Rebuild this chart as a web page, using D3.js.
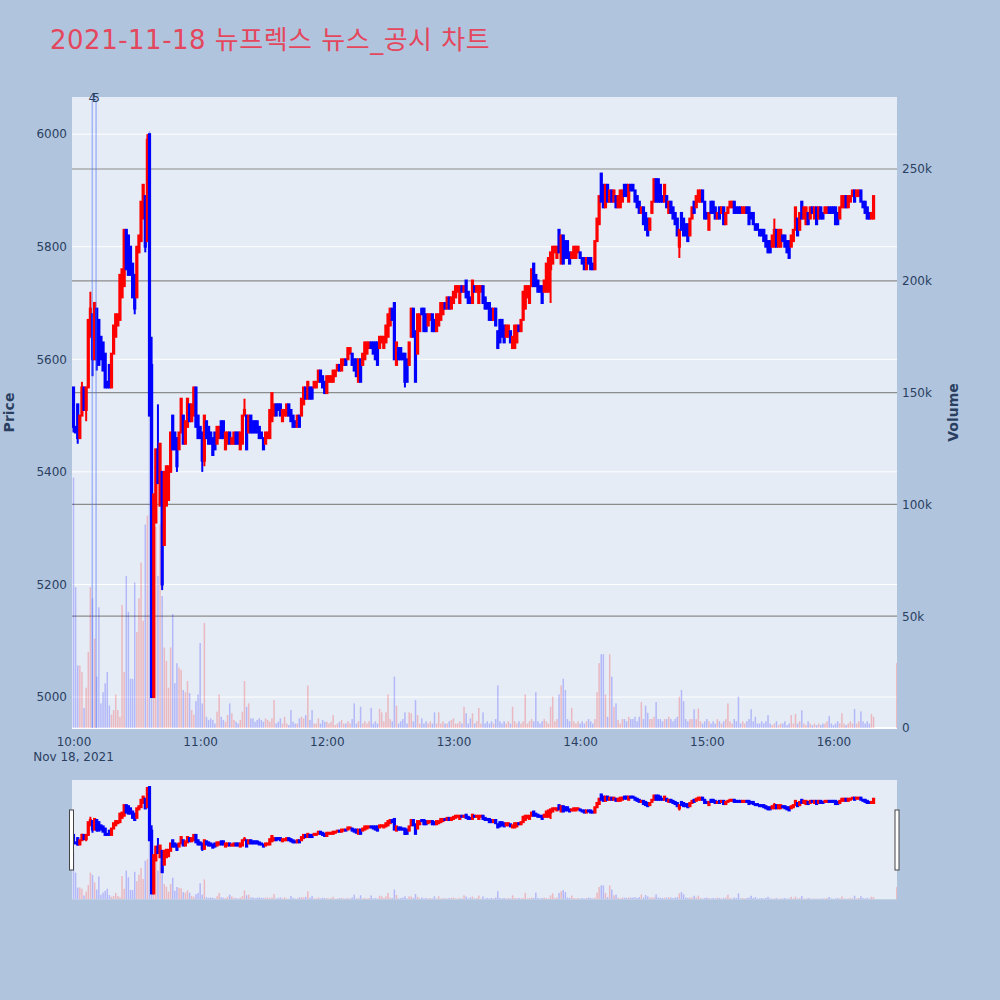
<!DOCTYPE html>
<html><head><meta charset="utf-8">
<script src="https://cdn.jsdelivr.net/npm/d3@7"></script>
<style>body{margin:0;background:#b0c4de;} svg{display:block}</style>
</head><body>
<svg id="chart" width="1000" height="1000"></svg>
<script>
const titleText = "2021-11-18 뉴프렉스 뉴스_공시 차트";
// one candle per minute, index 0 = 10:00
const opens = [
5550,5480,5520,5460,5500,5550,5510,5550,5640,5680,5600,
5690,5670,5640,5630,5610,5560,5590,5550,5610,5640,
5660,5670,5710,5730,5830,5820,5800,5770,5750,5710,
5790,5810,5850,5890,5810,6000,5590,5000,5310,5440,
5340,5400,5270,5340,5350,5400,5500,5470,5460,5440,
5470,5500,5450,5480,5520,5490,5500,5550,5500,
5480,5470,5420,5490,5480,5470,5460,5470,5450,5460,
5490,5490,5440,5450,5470,5450,5450,5470,5470,5440,
5450,5500,5500,5470,5500,5490,5490,5490,5480,5470,
5460,5450,5460,5460,5490,5500,5520,5520,5520,5490,
5500,5500,5520,5510,5500,5490,5480,5500,5500,5520,
5550,5530,5550,5550,5550,5550,5560,5580,5570,5560,
5540,5560,5560,5560,5570,5580,5590,5580,5590,5600,
5600,5610,5610,5600,5600,5560,5600,5590,5600,5610,
5620,5630,5630,5630,5630,5620,5630,5620,5630,5640,
5660,5690,5700,5590,5620,5620,5610,5610,5600,5590,
5640,5690,5650,5610,5650,5690,5690,5680,5660,5670,
5680,5670,5650,5660,5670,5680,5700,5690,5710,5690,
5700,5710,5720,5700,5730,5720,5740,5720,5710,5700,
5730,5720,5700,5720,5730,5710,5700,5700,5690,5670,
5690,5650,5670,5670,5660,5640,5640,5650,5620,5620,
5630,5660,5650,5670,5690,5710,5700,5730,5770,5750,
5740,5730,5730,5720,5720,5720,5760,5770,5790,5780,
5830,5770,5820,5810,5810,5790,5780,5780,5780,5790,
5790,5780,5780,5760,5780,5780,5770,5760,5810,5840,
5930,5910,5870,5910,5880,5900,5880,5890,5870,5870,
5880,5910,5910,5880,5910,5910,5900,5890,5880,5860,
5870,5860,5850,5830,5860,5880,5920,5920,5910,5890,
5880,5890,5860,5880,5870,5860,5850,5800,5860,5850,
5840,5840,5820,5850,5880,5870,5880,5880,5900,5880,
5860,5830,5880,5880,5870,5850,5870,5860,5870,5840,
5860,5870,5870,5880,5870,5870,5870,5860,5860,5870,
5870,5860,5860,5840,5840,5830,5830,5830,5820,5810,
5810,5800,5800,5830,5800,5800,5820,5820,5810,5810,
5800,5810,5830,5850,5830,5880,5850,5840,5860,5850,
5870,5850,5870,5850,5870,5860,5860,5860,5870,5870,
5870,5870,5860,5850,5870,5870,5890,5870,5880,5890,
5900,5890,5890,5900,5880,5880,5870,5860,5850,5850];
const closes = [
5480,5470,5460,5500,5550,5510,5550,5670,5690,5600,5700,
5600,5590,5600,5580,5550,5550,5550,5610,5660,5680,
5680,5750,5760,5830,5760,5750,5750,5710,5690,5800,
5820,5880,5910,5800,5990,5500,5000,5360,5440,5380,
5450,5200,5400,5410,5410,5470,5440,5440,5410,5470,
5530,5450,5490,5530,5490,5520,5550,5480,5460,
5460,5420,5500,5460,5450,5450,5430,5440,5480,5480,
5460,5460,5470,5470,5450,5460,5470,5450,5450,5470,
5500,5510,5440,5500,5470,5470,5470,5470,5460,5460,
5440,5470,5470,5510,5540,5520,5500,5510,5500,5510,
5510,5520,5500,5490,5480,5480,5500,5480,5530,5550,
5530,5560,5530,5530,5560,5560,5580,5560,5550,5540,
5570,5570,5570,5580,5580,5590,5580,5600,5600,5590,
5620,5620,5590,5580,5570,5600,5560,5610,5630,5630,
5630,5620,5610,5600,5590,5640,5640,5640,5660,5680,
5690,5670,5600,5630,5600,5600,5600,5560,5560,5630,
5690,5640,5560,5680,5680,5680,5650,5650,5680,5680,
5650,5650,5680,5680,5700,5700,5690,5710,5690,5710,
5720,5730,5730,5730,5720,5730,5710,5700,5700,5740,
5720,5730,5730,5730,5700,5690,5690,5670,5670,5690,
5660,5620,5630,5640,5630,5660,5660,5630,5640,5660,
5660,5650,5670,5720,5730,5730,5730,5760,5730,5730,
5720,5720,5700,5740,5770,5780,5790,5800,5800,5800,
5790,5820,5770,5780,5780,5770,5790,5800,5800,5800,
5780,5770,5760,5780,5770,5760,5760,5810,5850,5890,
5880,5870,5910,5880,5900,5880,5900,5870,5890,5900,
5900,5890,5890,5910,5900,5900,5880,5870,5860,5870,
5840,5830,5820,5850,5880,5920,5880,5880,5880,5880,
5910,5870,5880,5860,5850,5840,5820,5830,5830,5820,
5820,5810,5850,5870,5860,5890,5900,5900,5880,5850,
5850,5860,5860,5860,5850,5860,5850,5870,5840,5860,
5870,5880,5880,5860,5860,5860,5860,5870,5870,5860,
5840,5850,5840,5830,5830,5820,5820,5810,5800,5790,
5790,5820,5830,5800,5830,5830,5810,5800,5790,5780,
5820,5830,5870,5820,5860,5850,5870,5870,5840,5870,
5860,5870,5840,5870,5850,5850,5870,5870,5860,5860,
5860,5840,5840,5870,5890,5890,5870,5890,5890,5900,
5880,5900,5900,5880,5870,5860,5850,5850,5860,5890];
// wick extremes beyond the body: [minute index, price]
const wickHighs = [[4,5560],[8,5720],[35,6000],[37,5640],[40,5520],[81,5530],[332,5850]];
const wickLows = [[0,5470],[2,5450],[6,5490],[9,5570],[11,5580],[29,5680],[34,5790],[42,5190],[49,5400],[61,5400],[62,5410],[157,5550],[226,5700],[287,5780]];
// volume per minute, thousands of shares
const volumesK = [
112,63,28,28,25,9,18,34,63,58,
40,23,54,11,16,20,25,10,6,8,
15,8,5,55,25,68,52,22,22,65,
43,58,74,48,91,95,267,100,75,90,
68,91,59,36,30,18,36,51,20,29,
27,26,17,16,21,15.6,8,6,12,15,
38,11,47,5,3.6,4.3,3.6,2,7.3,15,
5,3.6,2.8,5.8,11,6.6,3.6,2.8,2,3.6,
7.3,21,9.5,11,4.3,4.3,2.8,3.6,4.3,3.6,
2.8,4.3,3.6,2.8,4.3,12.5,2,2.8,4.3,2,
5,2,1.3,8,2.8,2,2,4.3,5,4.3,
5.8,19,3.6,8,2,2,4.3,2,3.6,2.8,
2.8,2,2.8,5.8,1.3,2,2.8,3.6,2,2,
3,2,4,11,2,3,9.5,2,3,2,
3,9,2,3,2,8.6,7,3,7,15,
4,3,23,10,2,3,4,7,2,7,
6.6,3,12.5,5.8,2,4.3,2,3,2,3,
2,7,2,7,2,3,2,2,3,3.6,
4.3,2,2,3,2,9.5,6.6,2,4.3,6.6,
2,3,9,2,7,2,3,2,3,2,
4,19,3,2,3,2,3,2,9.5,3,
2,3,2,3,15,2,3,4,3,16,
3,2,3,4,3,2,9.5,14,3,4,
15,19,22,17,4,3,9,3,2,3,
2,3,2,3,4,3,2,4,16,29,
33,33,15,5,33,23,9.5,11,3.6,2,
4,4,3,5,4,4,5,3,5,11.6,
4,10,6.8,4,4,5,11.6,4,4,3,
4,4,5,4,3,4,5,14,17,12,
4,3,4,4,8.4,4,8.7,3,2,3,
4,3,2,3,2,4,3,2,3,4,
11,3,2,4,3,14,2,3,2,3,
4,8.4,3,5,2,2,3,2,3,5.8,
2,1.3,2,3,1.3,2,2,3,1.3,2,
5.8,2,6.3,2,3,7.9,2,1.3,3,2,
1.3,2,1.3,2,1.3,2,2,3,5.3,2,
1.3,2,3,2,6.6,2,1.3,2,3,2,
8.5,2,3,7.4,3,2,3,2,6.3,5];
// closing auction at 16:30
const auctionMinute = [390];
const auctionPrice = [5900];
const auctionVolumeK = [29];
// news / disclosure markers (minutes after 10:00)
const newsMinutes = [8.9, 10.7];
const newsLabels = ["4", "5"];
const priceTicks = [5000, 5200, 5400, 5600, 5800, 6000];
const volumeTicks = [0, 50000, 100000, 150000, 200000, 250000];
const timeTickMinutes = [0, 60, 120, 180, 240, 300, 360];

const FONT = "'DejaVu Sans', Verdana, 'Noto Sans CJK KR', sans-serif";
const TXT = "#2a3f5f";
const base = new Date(2021, 10, 18, 10, 0, 0);
const tm = m => new Date(base.getTime() + m * 60000);

const candles = opens.map((o, i) => ({
  t: tm(i), o, c: closes[i],
  h: Math.max(o, closes[i]), l: Math.min(o, closes[i]), v: volumesK[i] * 1000
}));
wickHighs.forEach(([i, p]) => { candles[i].h = Math.max(candles[i].h, p); });
wickLows.forEach(([i, p]) => { candles[i].l = Math.min(candles[i].l, p); });
auctionMinute.forEach((m, k) => candles.push({t: tm(m), o: auctionPrice[k], c: auctionPrice[k], h: auctionPrice[k], l: auctionPrice[k], v: auctionVolumeK[k] * 1000}));

const L = 72, R = 897, T = 97, B = 728;
const sT = 780, sB = 899.3;
const x = d3.scaleTime().domain([tm(-0.71), tm(390.1)]).range([L, R]);
const yP = d3.scaleLinear().domain([4945, 6066]).range([B, T]);
const yV = d3.scaleLinear().domain([0, 282200]).range([B, T]);
const yPs = d3.scaleLinear().domain([4945, 6066]).range([sB, sT]);
const yVs = d3.scaleLinear().domain([0, 282200]).range([sB, sT]);

const svg = d3.select("#chart");
svg.append("rect").attr("width", 1000).attr("height", 1000).attr("fill", "#b0c4de");

const defs = svg.append("defs");
defs.append("clipPath").attr("id", "cp").append("rect").attr("x", L).attr("y", T).attr("width", R - L).attr("height", B - T);
defs.append("clipPath").attr("id", "cps").append("rect").attr("x", L).attr("y", sT).attr("width", R - L).attr("height", sB - sT);

svg.append("rect").attr("x", L).attr("y", T).attr("width", R - L).attr("height", B - T).attr("fill", "#e5ecf6");

// price grid (white)
svg.append("g").selectAll("line").data(priceTicks).join("line")
  .attr("x1", L).attr("x2", R).attr("y1", d => yP(d)).attr("y2", d => yP(d))
  .attr("stroke", "#fff").attr("stroke-width", 1);
// volume grid (grey)
svg.append("g").selectAll("line").data(volumeTicks.filter(d => d > 0)).join("line")
  .attr("x1", L).attr("x2", R).attr("y1", d => yV(d)).attr("y2", d => yV(d))
  .attr("stroke", "#8c8c8c").attr("stroke-width", 1.2);
svg.append("line").attr("x1", L).attr("x2", R).attr("y1", yV(0)).attr("y2", yV(0)).attr("stroke", "#fff").attr("stroke-width", 2);

const col = d => d.c >= d.o ? "#ff0000" : "#0000ff";
const vcol = d => d.c >= d.o ? "rgba(255,0,0,0.22)" : "rgba(0,0,255,0.22)";

function drawCandles(g, ys, yv) {
  g.append("g").selectAll("line").data(candles).join("line")
    .attr("x1", d => x(d.t)).attr("x2", d => x(d.t))
    .attr("y1", d => ys(d.h)).attr("y2", d => ys(d.l))
    .attr("stroke", col).attr("stroke-width", 2);
  g.append("g").selectAll("rect").data(candles).join("rect")
    .attr("x", d => x(d.t) - 0.6).attr("width", 1.2)
    .attr("y", d => ys(Math.max(d.o, d.c))).attr("height", d => Math.abs(ys(d.o) - ys(d.c)))
    .attr("fill", col).attr("stroke", col).attr("stroke-width", 2);
  g.append("g").selectAll("rect").data(candles).join("rect")
    .attr("x", d => x(d.t) - 0.75).attr("width", 1.5)
    .attr("y", d => yv(d.v)).attr("height", d => yv(0) - yv(d.v))
    .attr("fill", vcol);
}
drawCandles(svg.append("g").attr("clip-path", "url(#cp)"), yP, yV);

// news markers
const news = svg.append("g");
news.selectAll("line").data(newsMinutes).join("line")
  .attr("x1", d => x(tm(d))).attr("x2", d => x(tm(d))).attr("y1", T).attr("y2", B)
  .attr("stroke", "rgba(80,115,250,0.45)").attr("stroke-width", 1.5);
news.selectAll("text").data(newsMinutes).join("text")
  .attr("x", d => x(tm(d))).attr("y", T + 4.5).attr("text-anchor", "middle")
  .attr("fill", TXT).style("font", `12px ${FONT}`).text((d, i) => newsLabels[i]);

// axes
const gy = svg.append("g").attr("transform", `translate(${L},0)`)
  .call(d3.axisLeft(yP).tickValues(priceTicks).tickSize(0).tickPadding(5).tickFormat(d3.format("d")));
const gy2 = svg.append("g").attr("transform", `translate(${R},0)`)
  .call(d3.axisRight(yV).tickValues(volumeTicks).tickSize(0).tickPadding(5).tickFormat(d => d === 0 ? "0" : (d / 1000) + "k"));
const gx = svg.append("g").attr("transform", `translate(0,${B})`)
  .call(d3.axisBottom(x).tickValues(timeTickMinutes.map(tm)).tickSize(0).tickPadding(9).tickFormat(d3.timeFormat("%H:%M")));
[gy, gy2, gx].forEach(g => {
  g.select(".domain").remove();
  g.selectAll("text").attr("fill", TXT).style("font", `12px ${FONT}`);
});
svg.append("text").attr("x", x(tm(0))).attr("y", 761).attr("text-anchor", "middle")
  .attr("fill", TXT).style("font", `12px ${FONT}`).text("Nov 18, 2021");

svg.append("text").attr("transform", `translate(14,${(T + B) / 2}) rotate(-90)`).attr("text-anchor", "middle")
  .attr("fill", TXT).style("font", `bold 14px ${FONT}`).text("Price");
svg.append("text").attr("transform", `translate(958,${(T + B) / 2}) rotate(-90)`).attr("text-anchor", "middle")
  .attr("fill", TXT).style("font", `bold 14px ${FONT}`).text("Volume");

// title
svg.append("text").attr("x", 50).attr("y", 49).attr("fill", "#e4475d")
  .style("font", `26px ${FONT}`).style("letter-spacing", "0.5px").text(titleText);

// range slider
svg.append("rect").attr("x", L).attr("y", sT).attr("width", R - L).attr("height", sB - sT).attr("fill", "#e5ecf6");
drawCandles(svg.append("g").attr("clip-path", "url(#cps)"), yPs, yVs);
[L - 2.5, R - 2].forEach(hx => {
  svg.append("rect").attr("x", hx).attr("y", 810).attr("width", 4).attr("height", 60)
    .attr("fill", "#fff").attr("stroke", "#444").attr("stroke-width", 1);
});
</script>
</body></html>
